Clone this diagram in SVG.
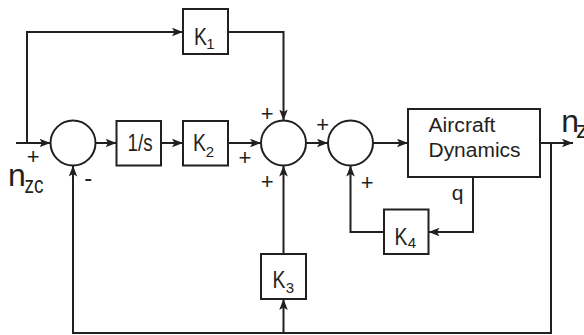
<svg xmlns="http://www.w3.org/2000/svg" width="584" height="335" viewBox="0 0 584 335">
<defs>
<style>
.blk{fill:#fff;stroke:#231f20;stroke-width:2}
.ln{fill:none;stroke:#231f20;stroke-width:2;marker-end:url(#arr)}
text{font-family:"Liberation Sans",Arial,sans-serif;fill:#231f20}
.k{font-size:24px;text-anchor:middle}
.sub{font-size:15px;text-anchor:middle}
.sg{font-size:22px;text-anchor:middle}
.ac{font-size:20px}
</style>
<marker id="arr" markerUnits="userSpaceOnUse" markerWidth="12" markerHeight="10" refX="11" refY="4.3" orient="auto">
<path d="M0,0 L11,4.3 L0,8.6 L2.5,4.3 Z" fill="#231f20"/>
</marker>
</defs>
<g id="connectors">
<path class="ln" d="M16,143 H50.5"/>
<path class="ln" d="M27,143 V32 H183"/>
<path class="ln" d="M228,32 H283.5 V120.5"/>
<path class="ln" d="M95.5,143 H116.5"/>
<path class="ln" d="M161,143 H183"/>
<path class="ln" d="M228,143 H261"/>
<path class="ln" d="M306,143 H328"/>
<path class="ln" d="M373,143 H408"/>
<path class="ln" d="M540,143 H573"/>
<path class="ln" d="M551,143 V333 H73 V165.5"/>
<path class="ln" d="M283.5,333 V299"/>
<path class="ln" d="M283.5,254 V165.5"/>
<path class="ln" d="M473,177 V232 H428.5"/>
<path class="ln" d="M384,232 H350.5 V165.5"/>
</g>
<g id="sum1"><circle class="blk" cx="73" cy="143" r="22.5"/></g>
<g id="sum2"><circle class="blk" cx="283.5" cy="143" r="22.5"/></g>
<g id="sum3"><circle class="blk" cx="350.5" cy="143" r="22.5"/></g>
<g id="K1">
<rect class="blk" x="183" y="9" width="45" height="45"/>
<text class="k" x="200.5" y="45" textLength="13" lengthAdjust="spacingAndGlyphs">K</text>
<text class="sub" x="210.5" y="48.5">1</text>
</g>
<g id="integrator">
<rect class="blk" x="116.5" y="121" width="44.5" height="44.5"/>
<text class="k" x="140" y="150.5" textLength="25" lengthAdjust="spacingAndGlyphs">1/s</text>
</g>
<g id="K2">
<rect class="blk" x="183" y="121" width="45" height="44.5"/>
<text class="k" x="199.5" y="151" textLength="13" lengthAdjust="spacingAndGlyphs">K</text>
<text class="sub" x="210" y="157">2</text>
</g>
<g id="K3">
<rect class="blk" x="261" y="254" width="45" height="45"/>
<text class="k" x="279" y="288.3" textLength="13" lengthAdjust="spacingAndGlyphs">K</text>
<text class="sub" x="289.8" y="293">3</text>
</g>
<g id="K4">
<rect class="blk" x="384" y="209.5" width="44.5" height="44.5"/>
<text class="k" x="401" y="244.5" textLength="13" lengthAdjust="spacingAndGlyphs">K</text>
<text class="sub" x="411.8" y="248">4</text>
</g>
<g id="aircraft">
<rect class="blk" x="408" y="109" width="132" height="68"/>
<text class="ac" x="428.5" y="131.7" textLength="67" lengthAdjust="spacingAndGlyphs">Aircraft</text>
<text class="ac" x="428.5" y="156.7" textLength="92" lengthAdjust="spacingAndGlyphs">Dynamics</text>
</g>
<g id="labels">
<text x="8" y="186" style="font-size:32px">n</text>
<text x="24.5" y="192.7" style="font-size:24px" textLength="19" lengthAdjust="spacingAndGlyphs">zc</text>
<text x="561.3" y="131.7" style="font-size:32px">n</text>
<text x="576" y="138.3" style="font-size:24px">z</text>
<text x="457.5" y="200" style="font-size:21px;text-anchor:middle">q</text>
<text class="sg" x="33.3" y="164.4">+</text>
<text class="sg" x="88.3" y="185.5" style="font-size:24px">-</text>
<text class="sg" x="267.3" y="121">+</text>
<text class="sg" x="245" y="165.4">+</text>
<text class="sg" x="267.3" y="188.7">+</text>
<text class="sg" x="322.7" y="132">+</text>
<text class="sg" x="367.3" y="190">+</text>
</g>
</svg>
